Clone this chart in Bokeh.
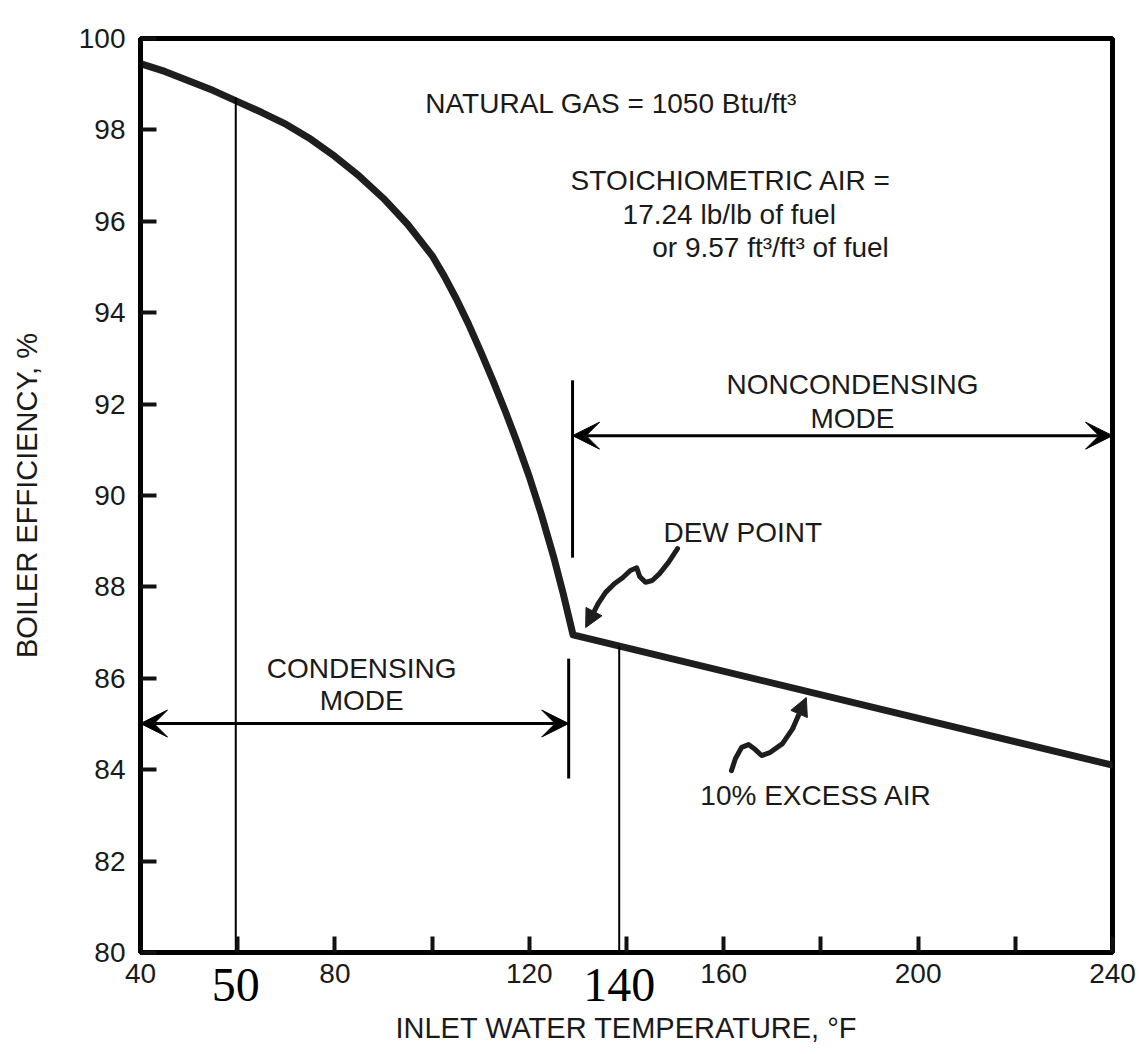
from bokeh.plotting import figure
from bokeh.models import Arrow, VeeHead, NormalHead, FixedTicker, Range1d, ColumnDataSource, LinearAxis
from bokeh.embed import file_html
from bokeh.resources import INLINE
from bokeh.core.properties import value

# ---- data ----
temp_f = [40, 45, 50, 55, 60, 65, 70, 75, 80, 85, 90, 95, 100, 102.5, 105, 107.5, 110,
          112.5, 115, 117.5, 120, 122.5, 125, 127, 129, 240]
efficiency = [99.45, 99.28, 99.07, 98.86, 98.62, 98.38, 98.12, 97.8, 97.42, 96.99, 96.5, 95.93,
              95.25, 94.8, 94.3, 93.75, 93.15, 92.52, 91.86, 91.16, 90.41, 89.58, 88.66, 87.84,
              86.95, 84.1]

x_ticks = [40, 60, 80, 100, 120, 140, 160, 180, 200, 220, 240]
x_tick_text = ["40", "", "80", "", "120", "", "160", "", "200", "", "240"]
y_ticks = [80, 82, 84, 86, 88, 90, 92, 94, 96, 98, 100]

noncond_arrow = [128.9, 240, 91.31]
cond_arrow = [40, 128.1, 85.01]
sep_upper = [128.9, 92.52, 88.64]
sep_lower = [128.1, 86.43, 83.81]

marker_x = [59.6, 138.5]
marker_top = [98.71, 86.7]
marker_labels = ["50", "140"]

note_x = [98.6, 128.5, 139.2, 145.3, 147.6, 155.2]
note_y = [98.58, 96.9, 96.15, 95.43, 89.19, 83.44]
note_text = ["NATURAL GAS = 1050 Btu/ft³", "STOICHIOMETRIC AIR =", "17.24 lb/lb of fuel",
             "or 9.57 ft³/ft³ of fuel", "DEW POINT", "10% EXCESS AIR"]

mode_x = [186.5, 186.5, 85.5, 85.5]
mode_y = [92.43, 91.68, 86.21, 85.51]
mode_text = ["NONCONDENSING", "MODE", "CONDENSING", "MODE"]

dew_squiggle_x = [150.5, 148.6, 146.8, 145.3, 143.9, 142.7, 142.1, 140.8, 139.2, 137.5, 135.7, 134.2]
dew_squiggle_y = [88.84, 88.53, 88.29, 88.14, 88.1, 88.23, 88.42, 88.36, 88.2, 88.07, 87.88, 87.64]
dew_tip = [131.6, 87.11]

air_squiggle_x = [161.6, 162.4, 163.7, 165.1, 166.5, 167.8, 169.6, 172.1, 174.2]
air_squiggle_y = [83.98, 84.24, 84.49, 84.55, 84.44, 84.31, 84.38, 84.57, 84.9]
air_tip = [177.0, 85.58]

FONT = "Liberation Sans"
INK = "#1a1a1a"

p = figure(width=1136, height=1052, x_range=Range1d(40, 240), y_range=Range1d(80, 100),
           output_backend="svg", toolbar_location=None,
           min_border_left=140, min_border_right=24, min_border_top=38, min_border_bottom=100)
p.grid.visible = False
p.outline_line_color = "black"
p.outline_line_width = 5
p.outline_line_alpha = 1.0

p.xaxis.ticker = FixedTicker(ticks=x_ticks)
p.xaxis.major_label_overrides = {t: s for t, s in zip(x_ticks, x_tick_text)}
p.yaxis.ticker = FixedTicker(ticks=y_ticks)
for ax in (p.xaxis, p.yaxis):
    ax.axis_line_width = 5
    ax.axis_line_color = "black"
    ax.major_tick_in = 16
    ax.major_tick_out = 0
    ax.major_tick_line_width = 4
    ax.major_tick_line_color = "#111111"
    ax.minor_tick_line_color = None
    ax.major_label_text_font = FONT
    ax.major_label_text_font_size = "28px"
    ax.major_label_text_color = INK
    ax.axis_label_text_font = FONT
    ax.axis_label_text_font_size = "29px"
    ax.axis_label_text_font_style = "normal"
    ax.axis_label_text_color = INK
p.xaxis.major_label_standoff = 11
p.yaxis.major_label_standoff = 15
p.yaxis.axis_label = "BOILER EFFICIENCY, %"
p.yaxis.axis_label_standoff = 33

# second bottom axis carrying the hand-added "50" / "140" marks and the axis title
marker_axis = LinearAxis(ticker=FixedTicker(ticks=marker_x),
                         major_label_overrides={t: s for t, s in zip(marker_x, marker_labels)},
                         axis_line_color=None, major_tick_line_color=None, minor_tick_line_color=None,
                         major_tick_in=0, major_tick_out=0, minor_tick_in=0, minor_tick_out=0,
                         major_label_standoff=-17,
                         major_label_text_font="Liberation Serif", major_label_text_font_size="48px",
                         major_label_text_color="black",
                         axis_label="INLET WATER TEMPERATURE, °F", axis_label_text_font=FONT,
                         axis_label_text_font_size="29px", axis_label_text_font_style="normal",
                         axis_label_text_color=INK, axis_label_standoff=8)
p.add_layout(marker_axis, "below")

# main curve
p.line(temp_f, efficiency, line_color="#1e1e1e", line_width=7, line_join="round", line_cap="round")

# mode separators
p.segment(x0=[sep_upper[0], sep_lower[0]], y0=[sep_upper[1], sep_lower[1]],
          x1=[sep_upper[0], sep_lower[0]], y1=[sep_upper[2], sep_lower[2]],
          line_color="black", line_width=3)

for (xa, xb, yy) in (noncond_arrow, cond_arrow):
    p.add_layout(Arrow(start=VeeHead(size=27, fill_color="black", line_color="black", line_width=1),
                       end=VeeHead(size=27, fill_color="black", line_color="black", line_width=1),
                       x_start=xa, y_start=yy, x_end=xb, y_end=yy,
                       line_color="black", line_width=3))

# squiggle pointer arrows
p.line(dew_squiggle_x, dew_squiggle_y, line_color="#1e1e1e", line_width=5, line_join="round", line_cap="round")
p.add_layout(Arrow(end=NormalHead(size=18, fill_color="#1e1e1e", line_color="#1e1e1e"),
                   x_start=dew_squiggle_x[-1], y_start=dew_squiggle_y[-1], x_end=dew_tip[0], y_end=dew_tip[1],
                   line_color="#1e1e1e", line_width=5))
p.line(air_squiggle_x, air_squiggle_y, line_color="#1e1e1e", line_width=5, line_join="round", line_cap="round")
p.add_layout(Arrow(end=NormalHead(size=18, fill_color="#1e1e1e", line_color="#1e1e1e"),
                   x_start=air_squiggle_x[-1], y_start=air_squiggle_y[-1], x_end=air_tip[0], y_end=air_tip[1],
                   line_color="#1e1e1e", line_width=5))

# notes
notes = ColumnDataSource(dict(x=note_x, y=note_y, text=note_text))
p.text(x="x", y="y", text="text", source=notes, text_font=value(FONT), text_font_size="28px",
       text_color=INK, text_align="left", text_baseline="middle")
modes = ColumnDataSource(dict(x=mode_x, y=mode_y, text=mode_text))
p.text(x="x", y="y", text="text", source=modes, text_font=value(FONT), text_font_size="28px",
       text_color=INK, text_align="center", text_baseline="middle")

# hand-drawn marker lines
p.segment(x0=marker_x, y0=marker_top, x1=marker_x, y1=[80, 80], line_color="black", line_width=2)

open("out.html", "w").write(file_html(p, INLINE))
